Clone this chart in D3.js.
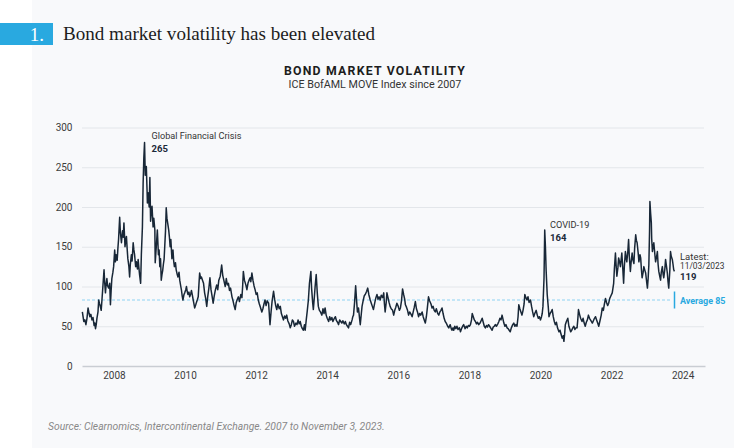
<!DOCTYPE html>
<html><head><meta charset="utf-8">
<script src="https://cdn.jsdelivr.net/npm/d3@7"></script>
<style>html,body{margin:0;padding:0;background:#fff;}svg{display:block;}</style>
</head><body>
<script>
// ---------- DATA ----------
const yTicks = [0, 50, 100, 150, 200, 250, 300];
const xTicks = [2008, 2010, 2012, 2014, 2016, 2018, 2020, 2022, 2024];
const averageValue = 83;          // drawn position of the average line
const averageLabel = "Average 85";
const annotations = [
  {t: 2008.86, label: "Global Financial Crisis", value: "265"},
  {t: 2020.12, label: "COVID-19", value: "164"}
];
const latestLabel = ["Latest:", "11/03/2023", "119"];
// [decimal year, MOVE index]
const moveSeries = [
[2007.11,68],[2007.13,62],[2007.15,56],[2007.18,58],[2007.21,52],[2007.24,60],[2007.27,73],[2007.30,66],[2007.32,62],[2007.35,65],
[2007.38,58],[2007.41,61],[2007.44,51],[2007.46,54],[2007.48,47],[2007.50,52],[2007.52,60],[2007.55,68],[2007.57,83],[2007.59,79],
[2007.61,76],[2007.64,70],[2007.66,82],[2007.68,95],[2007.70,108],[2007.72,121],[2007.74,104],[2007.76,92],[2007.78,103],[2007.80,110],
[2007.82,101],[2007.85,98],[2007.88,104],[2007.90,77],[2007.92,95],[2007.94,110],[2007.97,118],[2007.99,125],[2008.02,146],[2008.04,131],
[2008.06,140],[2008.09,133],[2008.11,148],[2008.13,160],[2008.16,187],[2008.18,168],[2008.21,155],[2008.24,170],[2008.26,162],[2008.28,180],
[2008.31,150],[2008.33,158],[2008.35,163],[2008.37,148],[2008.39,135],[2008.42,125],[2008.44,112],[2008.46,128],[2008.49,140],[2008.51,132],
[2008.54,155],[2008.56,146],[2008.58,140],[2008.61,125],[2008.63,131],[2008.66,122],[2008.68,134],[2008.70,124],[2008.72,115],[2008.75,104],
[2008.77,140],[2008.80,175],[2008.82,230],[2008.84,262],[2008.86,281],[2008.88,240],[2008.91,251],[2008.93,222],[2008.94,205],[2008.96,218],
[2008.99,200],[2009.01,237],[2009.03,182],[2009.05,196],[2009.07,201],[2009.10,175],[2009.12,186],[2009.15,171],[2009.16,130],[2009.19,150],
[2009.22,171],[2009.25,140],[2009.27,146],[2009.29,125],[2009.31,135],[2009.33,108],[2009.35,115],[2009.37,120],[2009.39,128],[2009.41,134],
[2009.43,152],[2009.45,170],[2009.47,199],[2009.49,186],[2009.51,180],[2009.54,171],[2009.56,162],[2009.58,150],[2009.60,159],[2009.63,135],
[2009.66,146],[2009.68,132],[2009.70,125],[2009.73,130],[2009.75,121],[2009.78,115],[2009.80,112],[2009.83,118],[2009.85,108],[2009.88,100],
[2009.90,95],[2009.92,88],[2009.94,83],[2009.97,90],[2009.99,92],[2010.02,96],[2010.04,100],[2010.06,94],[2010.08,90],[2010.11,93],
[2010.13,87],[2010.16,91],[2010.18,95],[2010.21,88],[2010.23,83],[2010.25,78],[2010.27,73],[2010.30,77],[2010.32,80],[2010.35,84],
[2010.37,87],[2010.39,102],[2010.41,117],[2010.44,110],[2010.46,112],[2010.49,108],[2010.52,104],[2010.55,92],[2010.58,85],[2010.61,75],
[2010.64,88],[2010.67,98],[2010.70,111],[2010.73,96],[2010.76,88],[2010.79,79],[2010.82,88],[2010.85,95],[2010.89,102],[2010.92,96],
[2010.95,108],[2010.99,113],[2011.03,127],[2011.06,114],[2011.09,108],[2011.13,100],[2011.16,110],[2011.19,102],[2011.22,104],[2011.25,95],
[2011.28,98],[2011.32,87],[2011.35,82],[2011.38,76],[2011.41,71],[2011.44,80],[2011.47,84],[2011.50,87],[2011.53,81],[2011.57,90],
[2011.60,86],[2011.62,100],[2011.64,119],[2011.67,108],[2011.71,102],[2011.74,96],[2011.77,104],[2011.80,108],[2011.83,111],[2011.85,106],
[2011.88,117],[2011.91,108],[2011.94,101],[2011.97,96],[2012.00,90],[2012.03,92],[2012.06,83],[2012.09,78],[2012.12,74],[2012.16,68],
[2012.19,72],[2012.22,78],[2012.25,83],[2012.28,76],[2012.31,82],[2012.35,79],[2012.37,66],[2012.39,52],[2012.42,68],[2012.45,82],
[2012.49,94],[2012.52,84],[2012.55,76],[2012.58,71],[2012.61,78],[2012.65,72],[2012.68,75],[2012.71,66],[2012.74,62],[2012.77,58],
[2012.80,63],[2012.83,60],[2012.86,64],[2012.89,57],[2012.93,53],[2012.96,48],[2012.99,52],[2013.02,58],[2013.05,56],[2013.08,50],
[2013.12,54],[2013.15,52],[2013.18,58],[2013.21,53],[2013.24,56],[2013.27,50],[2013.30,47],[2013.33,45],[2013.36,52],[2013.38,45],
[2013.41,58],[2013.44,70],[2013.47,83],[2013.50,104],[2013.54,119],[2013.56,98],[2013.59,80],[2013.61,71],[2013.64,88],[2013.66,100],
[2013.69,115],[2013.72,92],[2013.75,75],[2013.78,70],[2013.81,68],[2013.85,64],[2013.88,72],[2013.91,66],[2013.94,73],[2013.97,64],
[2014.00,60],[2014.04,56],[2014.07,62],[2014.10,58],[2014.13,61],[2014.16,56],[2014.20,60],[2014.23,62],[2014.26,57],[2014.29,55],
[2014.32,52],[2014.35,58],[2014.38,56],[2014.41,54],[2014.44,57],[2014.48,53],[2014.51,56],[2014.54,52],[2014.57,50],[2014.60,48],
[2014.63,55],[2014.66,52],[2014.70,58],[2014.72,62],[2014.74,64],[2014.77,80],[2014.80,101],[2014.83,80],[2014.85,68],[2014.88,73],
[2014.91,60],[2014.93,52],[2014.96,66],[2014.98,75],[2015.01,82],[2015.04,88],[2015.07,90],[2015.11,94],[2015.14,98],[2015.17,90],
[2015.21,83],[2015.24,79],[2015.27,75],[2015.30,71],[2015.34,80],[2015.37,86],[2015.40,90],[2015.43,84],[2015.46,87],[2015.49,83],
[2015.52,89],[2015.56,86],[2015.59,92],[2015.61,78],[2015.63,68],[2015.66,80],[2015.68,92],[2015.71,86],[2015.74,80],[2015.77,75],
[2015.80,72],[2015.84,70],[2015.87,64],[2015.90,70],[2015.93,74],[2015.96,79],[2015.99,76],[2016.03,70],[2016.06,73],[2016.09,82],
[2016.12,97],[2016.15,90],[2016.18,84],[2016.20,77],[2016.23,74],[2016.26,70],[2016.29,64],[2016.32,68],[2016.36,65],[2016.39,62],
[2016.42,68],[2016.45,74],[2016.48,81],[2016.51,72],[2016.54,68],[2016.57,62],[2016.60,66],[2016.63,64],[2016.67,68],[2016.70,62],
[2016.73,58],[2016.76,54],[2016.79,62],[2016.82,74],[2016.85,87],[2016.88,82],[2016.92,78],[2016.95,73],[2016.98,75],[2017.01,70],
[2017.04,68],[2017.07,72],[2017.11,66],[2017.14,64],[2017.17,68],[2017.20,70],[2017.23,73],[2017.26,66],[2017.29,60],[2017.32,56],
[2017.35,54],[2017.39,50],[2017.42,48],[2017.46,52],[2017.49,47],[2017.51,45],[2017.54,48],[2017.56,45],[2017.59,50],[2017.62,47],
[2017.65,50],[2017.68,46],[2017.72,48],[2017.75,43],[2017.78,47],[2017.81,50],[2017.84,52],[2017.88,47],[2017.91,50],[2017.94,48],
[2017.97,51],[2018.00,50],[2018.03,52],[2018.06,58],[2018.08,66],[2018.11,62],[2018.14,58],[2018.17,56],[2018.20,53],[2018.23,55],
[2018.26,52],[2018.30,54],[2018.33,57],[2018.36,60],[2018.39,55],[2018.42,50],[2018.45,48],[2018.48,51],[2018.51,49],[2018.54,52],
[2018.57,50],[2018.61,47],[2018.64,45],[2018.67,49],[2018.70,50],[2018.73,52],[2018.76,50],[2018.80,53],[2018.83,56],[2018.86,60],
[2018.89,58],[2018.92,64],[2018.95,58],[2018.97,54],[2019.00,50],[2019.03,52],[2019.06,48],[2019.09,47],[2019.12,45],[2019.15,43],
[2019.18,48],[2019.22,52],[2019.25,54],[2019.28,50],[2019.31,52],[2019.34,50],[2019.37,62],[2019.39,77],[2019.42,72],[2019.45,68],
[2019.48,64],[2019.51,70],[2019.54,78],[2019.56,90],[2019.59,86],[2019.62,83],[2019.65,87],[2019.68,80],[2019.72,83],[2019.75,75],
[2019.78,68],[2019.81,62],[2019.84,66],[2019.88,70],[2019.91,64],[2019.94,60],[2019.97,62],[2020.00,58],[2020.03,62],[2020.05,66],
[2020.07,75],[2020.10,110],[2020.12,171],[2020.14,150],[2020.16,120],[2020.18,100],[2020.19,90],[2020.22,74],[2020.24,62],[2020.27,66],
[2020.30,68],[2020.33,71],[2020.36,62],[2020.39,56],[2020.42,52],[2020.45,55],[2020.48,48],[2020.52,43],[2020.55,45],[2020.58,40],
[2020.61,35],[2020.64,38],[2020.66,31],[2020.68,40],[2020.70,52],[2020.73,56],[2020.77,60],[2020.80,50],[2020.83,46],[2020.85,43],
[2020.88,45],[2020.91,48],[2020.94,50],[2020.97,46],[2021.00,48],[2021.03,48],[2021.05,58],[2021.07,71],[2021.10,65],[2021.13,60],
[2021.17,56],[2021.20,60],[2021.23,54],[2021.26,50],[2021.29,55],[2021.32,58],[2021.35,64],[2021.38,60],[2021.42,57],[2021.46,54],
[2021.49,57],[2021.52,60],[2021.55,62],[2021.58,58],[2021.61,54],[2021.64,50],[2021.67,56],[2021.71,64],[2021.74,73],[2021.77,70],
[2021.80,78],[2021.83,85],[2021.86,80],[2021.89,76],[2021.92,79],[2021.95,85],[2021.98,88],[2022.02,92],[2022.04,98],[2022.06,104],
[2022.08,122],[2022.11,142],[2022.13,126],[2022.15,113],[2022.18,124],[2022.20,136],[2022.23,130],[2022.25,125],[2022.27,134],[2022.29,142],
[2022.32,120],[2022.34,104],[2022.36,125],[2022.39,144],[2022.41,136],[2022.43,131],[2022.46,145],[2022.48,159],[2022.50,138],[2022.53,119],
[2022.55,130],[2022.58,142],[2022.60,134],[2022.63,129],[2022.65,148],[2022.68,165],[2022.70,158],[2022.72,155],[2022.75,142],[2022.77,131],
[2022.80,140],[2022.82,136],[2022.84,122],[2022.86,111],[2022.89,118],[2022.91,125],[2022.94,120],[2022.96,117],[2022.99,105],[2023.01,98],
[2023.03,110],[2023.05,127],[2023.07,170],[2023.08,207],[2023.10,192],[2023.12,180],[2023.13,160],[2023.15,144],[2023.17,150],[2023.19,155],
[2023.22,140],[2023.24,131],[2023.27,138],[2023.29,144],[2023.31,128],[2023.33,119],[2023.36,112],[2023.38,108],[2023.40,118],[2023.43,125],
[2023.45,116],[2023.47,111],[2023.50,122],[2023.52,134],[2023.55,124],[2023.57,117],[2023.59,106],[2023.61,98],[2023.64,120],[2023.66,144],
[2023.68,138],[2023.71,134],[2023.73,128],[2023.75,121],[2023.77,119]
];

// ---------- DRAW ----------
const W = 734, H = 448;
const svg = d3.select("body").append("svg").attr("width", W).attr("height", H);
svg.append("rect").attr("width", W).attr("height", H).attr("fill", "#ffffff");
svg.append("rect").attr("x", 32).attr("y", 0).attr("width", W - 32).attr("height", H).attr("fill", "#f8f9fb");

const sans = "Roboto, 'Noto Sans', sans-serif";
const serif = "'Liberation Serif', 'DejaVu Serif', serif";

function fit(sel, target) {
  const n = sel.node();
  const len = n.getComputedTextLength();
  const fs = parseFloat(sel.attr("font-size"));
  if (len > 0) sel.attr("font-size", (fs * target / len).toFixed(2));
  return sel;
}

// badge + title
svg.append("rect").attr("x", 0).attr("y", 23).attr("width", 53).attr("height", 22).attr("fill", "#29a9e0");
svg.append("text").attr("x", 44).attr("y", 40.5).attr("text-anchor", "end")
  .attr("font-family", serif).attr("font-size", 19).attr("fill", "#fff").text("1.");
fit(svg.append("text").attr("x", 63).attr("y", 40).attr("font-family", serif)
  .attr("font-size", 19).attr("fill", "#1d1d1d").text("Bond market volatility has been elevated"), 312);

// chart titles
fit(svg.append("text").attr("x", 375).attr("y", 75).attr("text-anchor", "middle")
  .attr("font-family", sans).attr("font-weight", 700).attr("letter-spacing", 1.2)
  .attr("font-size", 11.5).attr("fill", "#1d1d1d").text("BOND MARKET VOLATILITY"), 184);
fit(svg.append("text").attr("x", 375).attr("y", 88).attr("text-anchor", "middle")
  .attr("font-family", sans).attr("font-size", 10).attr("fill", "#333").text("ICE BofAML MOVE Index since 2007"), 173);

// scales
const x = d3.scaleLinear().domain([2007.1, 2024.63]).range([82, 705]);
const y = d3.scaleLinear().domain([0, 300]).range([366, 127.5]);

// y grid + labels
const yAxis = svg.append("g").attr("transform", "translate(82,0)")
  .call(d3.axisLeft(y).tickValues(yTicks).tickSize(-622).tickPadding(9.5).tickFormat(d3.format("d")));
yAxis.select(".domain").remove();
yAxis.selectAll(".tick line").attr("stroke", "#e3e6ea").attr("stroke-width", 1);
yAxis.selectAll(".tick").filter(d => d === 0).select("line").remove();
yAxis.selectAll("text").attr("font-family", sans).attr("font-size", 10).attr("fill", "#3d3d3d");

// x axis
const xAxis = svg.append("g").attr("transform", "translate(0,366)")
  .call(d3.axisBottom(x).tickValues(xTicks).tickSize(0).tickSizeOuter(0).tickPadding(6).tickFormat(d3.format("d")));
xAxis.select(".domain").attr("stroke", "#c9cdd3").attr("stroke-width", 1.5);
xAxis.selectAll("text").attr("font-family", sans).attr("font-size", 10).attr("fill", "#3d3d3d");

// average line
svg.append("line").attr("x1", 82).attr("x2", 670).attr("y1", y(averageValue)).attr("y2", y(averageValue))
  .attr("stroke", "#8ed3f3").attr("stroke-width", 1).attr("stroke-dasharray", "3,2");
svg.append("line").attr("x1", 674.5).attr("x2", 674.5).attr("y1", y(averageValue) - 8.5).attr("y2", y(averageValue) + 8.5)
  .attr("stroke", "#29a9e0").attr("stroke-width", 1.5);
fit(svg.append("text").attr("x", 680).attr("y", y(averageValue) + 3.5)
  .attr("font-family", sans).attr("font-weight", 700).attr("font-size", 9.5).attr("fill", "#29a9e0").text(averageLabel), 45.5);

// line
const line = d3.line().x(d => x(d[0])).y(d => y(d[1]));
svg.append("path").datum(moveSeries).attr("d", line).attr("fill", "none")
  .attr("stroke", "#182737").attr("stroke-width", 1.5).attr("stroke-linejoin", "round");

// annotations
const gfc = annotations[0], cov = annotations[1];
fit(svg.append("text").attr("x", 151.5).attr("y", 139).attr("font-family", sans).attr("font-size", 9.5)
  .attr("fill", "#333").text(gfc.label), 90);
svg.append("text").attr("x", 151.5).attr("y", 152.3).attr("font-family", sans).attr("font-size", 9.5)
  .attr("font-weight", 700).attr("fill", "#1b2a3a").text(gfc.value);
fit(svg.append("text").attr("x", 550).attr("y", 227.7).attr("font-family", sans).attr("font-size", 9.5)
  .attr("fill", "#333").text(cov.label), 39.5);
svg.append("text").attr("x", 550).attr("y", 240.8).attr("font-family", sans).attr("font-size", 9.5)
  .attr("font-weight", 700).attr("fill", "#1b2a3a").text(cov.value);

// latest
const lat = svg.append("g").attr("font-family", sans).attr("font-size", 9.5);
lat.append("text").attr("x", 680).attr("y", 259.5).attr("fill", "#333").text(latestLabel[0]);
fit(lat.append("text").attr("x", 680).attr("y", 268.8).attr("fill", "#333").attr("font-size", 9.5).text(latestLabel[1]), 44.5);
lat.append("text").attr("x", 680).attr("y", 280).attr("font-weight", 700).attr("fill", "#1b2a3a").text(latestLabel[2]);

// source
fit(svg.append("text").attr("x", 48).attr("y", 430).attr("font-family", sans).attr("font-style", "italic")
  .attr("font-size", 10).attr("fill", "#888").text("Source: Clearnomics, Intercontinental Exchange. 2007 to November 3, 2023."), 337);
</script>
</body></html>
